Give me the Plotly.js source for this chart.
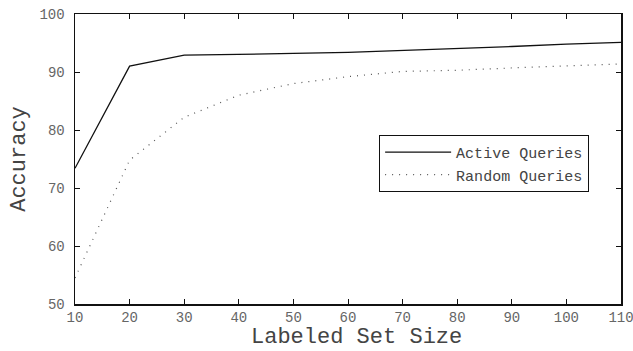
<!DOCTYPE html>
<html>
<head>
<meta charset="utf-8">
<script src="https://cdn.plot.ly/plotly-3.0.1.min.js"></script>
<style>html,body{margin:0;padding:0;background:#fff;}#chart{width:633px;height:351px;}</style>
</head>
<body>
<div id="chart"></div>
<script>
const setSizes = [10, 20, 30, 40, 50, 60, 70, 80, 90, 100, 110];
const activeAcc = [73.4, 91.0, 92.9, 93.0, 93.2, 93.4, 93.7, 94.1, 94.4, 94.8, 95.1];
const randomAcc = [54.5, 74.8, 82.2, 86.0, 88.0, 89.2, 90.1, 90.3, 90.7, 91.0, 91.4];
const xTicks = [10, 20, 30, 40, 50, 60, 70, 80, 90, 100, 110];
const yTicks = [50, 60, 70, 80, 90, 100];
const xTitle = "Labeled Set Size";
const yTitle = "Accuracy";

const font = "Liberation Mono, Courier New, monospace";
const traces = [
  {x: setSizes, y: activeAcc, name: "Active Queries", mode: "lines",
   line: {color: "#111", width: 1.3, dash: "solid"}},
  {x: setSizes, y: randomAcc, name: "Random Queries", mode: "lines",
   line: {color: "#555", width: 1.2, dash: "1px,6px"}}
];
const axisCommon = {
  showline: true, linecolor: "#111", linewidth: 1.5, mirror: "ticks",
  ticks: "inside", ticklen: 5, tickwidth: 1, tickcolor: "#111",
  showgrid: false, zeroline: false, automargin: false,
  ticklabeloverflow: "allow",
  tickfont: {family: font, size: 14, color: "#666"}
};
const layout = {
  width: 633, height: 351,
  margin: {l: 75, r: 12, t: 14, b: 47},
  paper_bgcolor: "#fff", plot_bgcolor: "#fff",
  font: {family: font},
  xaxis: Object.assign({}, axisCommon, {
    range: [10, 110], tickvals: xTicks, ticktext: xTicks.map(String)
  }),
  yaxis: Object.assign({}, axisCommon, {
    range: [50, 100], tickvals: yTicks, ticktext: yTicks.map(String),
    ticklabelstandoff: 6,
    title: {text: yTitle, font: {family: font, size: 22, color: "#444"}, standoff: 8}
  }),
  annotations: [{
    text: xTitle, xref: "paper", yref: "paper", x: 0.515, y: 0,
    xanchor: "center", yanchor: "bottom", yshift: -46.5, borderpad: 0, showarrow: false,
    font: {family: font, size: 22, color: "#444"}
  }],
  showlegend: true,
  legend: {
    x: 0.557, y: 0.583, xanchor: "left", yanchor: "top",
    bordercolor: "#111", borderwidth: 1, bgcolor: "#fff",
    font: {family: font, size: 15, color: "#444"},
    itemwidth: 66, tracegroupgap: 0
  }
};
Plotly.newPlot("chart", traces, layout, {displayModeBar: false, staticPlot: true});
</script>
</body>
</html>
